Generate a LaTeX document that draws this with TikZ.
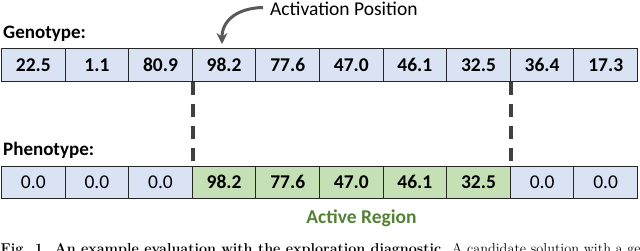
\documentclass[tikz,border=0pt]{standalone}
\usepackage{fontspec}
\newfontfamily\carl{Carlito}
\usetikzlibrary{arrows.meta}
\definecolor{cellblue}{HTML}{DAE3F3}
\definecolor{cellgreen}{HTML}{C5E0B4}
\definecolor{regiongreen}{HTML}{548235}
\definecolor{arrowgray}{HTML}{595959}
\definecolor{dashgray}{HTML}{404040}
\begin{document}
\begin{tikzpicture}[x=1pt,y=-1pt,
  cell/.style={draw=black!85, line width=0.9pt, minimum width=63.7pt, minimum height=32.4pt,
    inner sep=0pt, anchor=north west, font=\carl\fontsize{19.5}{20}\selectfont},
  boldcell/.style={cell, font=\carl\fontsize{19.5}{20}\selectfont\bfseries},
  rowlabel/.style={anchor=base west, inner sep=0pt, font=\carl\fontsize{19}{20}\selectfont\bfseries},
  dashline/.style={draw=dashgray, line width=3.5pt, dash pattern=on 13pt off 9pt},
  curvearrow/.style={draw=arrowgray, line width=3pt, -{Stealth[length=11pt,width=11pt]}}]
\useasboundingbox (0,0) rectangle (640,250);
\node[rowlabel] (glab) at (3,38.5) {Genotype:};
\node[rowlabel] (plab) at (3,155) {Phenotype:};
\foreach [count=\i] \v in {22.5,1.1,80.9,98.2,77.6,47.0,46.1,32.5,36.4,17.3}
  \node[boldcell, fill=cellblue] (g\i) at ({1+(\i-1)*63.6},48.3) {\v};
\foreach [count=\i] \v in {0.0,0.0,0.0}
  \node[cell, fill=cellblue] (p\i) at ({1+(\i-1)*63.6},165.5) {\v};
\foreach [count=\i from 4] \v in {98.2,77.6,47.0,46.1,32.5}
  \node[boldcell, fill=cellgreen] (p\i) at ({1+(\i-1)*63.6},165.5) {\v};
\foreach [count=\i from 9] \v in {0.0,0.0}
  \node[cell, fill=cellblue] (p\i) at ({1+(\i-1)*63.6},165.5) {\v};
\draw[dashline] (g3.south east) -- (p3.north east);
\draw[dashline] (g8.south east) -- (p8.north east);
\node[anchor=base west, inner sep=0pt, font=\carl\fontsize{19.5}{20}\selectfont] (ap) at (270,15.5) {Activation Position};
\coordinate (astart) at (263,7.5);
\coordinate (aend) at (222,44);
\draw[curvearrow] (astart) .. controls (238,8) and (222,20) .. (aend);
\node[anchor=base, inner sep=0pt, text=regiongreen, font=\carl\fontsize{19.5}{20}\selectfont\bfseries] (ar) at (361.5,223) {Active Region};
\begin{scope}
\clip (0,0) rectangle (640,250);
\node[anchor=base west, inner sep=0pt, font=\rmfamily\fontsize{14.3}{15}\selectfont] (cap) at (0.5,253.5)
  {\textbf{Fig. 1. An example evaluation with the exploration diagnostic.} A candidate solution with a genotype};
\end{scope}
\end{tikzpicture}
\end{document}
